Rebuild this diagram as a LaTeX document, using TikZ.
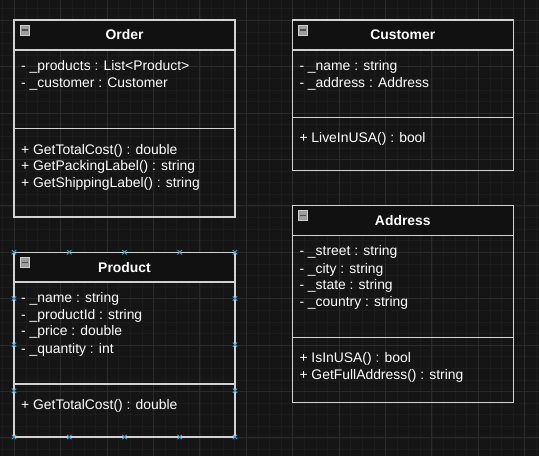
\documentclass[tikz,border=0pt]{standalone}
\usepackage{fontspec}
\setmainfont{Liberation Sans}
\usetikzlibrary{positioning, shapes.misc}

\definecolor{canvas}{HTML}{151515}
\definecolor{headfill}{HTML}{111111}
\definecolor{minorline}{HTML}{1C1C1C}
\definecolor{majorline}{HTML}{2A2A2A}
\definecolor{edge}{HTML}{D2D2D2}
\definecolor{foldfill}{HTML}{9C9C9C}
\definecolor{handleblue}{HTML}{3FA4D6}

\tikzset{
    head/.style={draw=edge, fill=headfill, line width=1.1pt, minimum width=221pt, inner sep=0pt, outer sep=0pt, anchor=north west},
    part/.style={draw=edge, line width=1.1pt, minimum width=221pt, inner sep=0pt, outer sep=0pt},
    title/.style={text=white, font=\bfseries\fontsize{13.9}{16}\selectfont},
    member/.style={text=white, anchor=base west, inner sep=0pt, font=\fontsize{13.9}{16}\selectfont},
    fold/.style={draw=gray!40, fill=foldfill, line width=0.8pt, minimum size=9.5pt, inner sep=0pt, anchor=north west},
    handle/.style={cross out, draw=handleblue, line width=0.9pt, minimum size=3.5pt, inner sep=0pt}
}

\begin{document}
\begin{tikzpicture}[x=1pt, y=-1pt]
        \useasboundingbox (0, 0) rectangle (539, 456);
        \fill [canvas] (0, 0) rectangle (539, 456);

        % grid
        \foreach \i in {0,...,46}
        {
            \draw [minorline, line width=0.8pt] ({2.7+11.6*\i}, 0) to ({2.7+11.6*\i}, 456);
        }
        \foreach \i in {0,...,38}
        {
            \draw [minorline, line width=0.8pt] (0, {8.7+11.6*\i}) to (539, {8.7+11.6*\i});
        }
        \foreach \i in {0,...,11}
        {
            \draw [majorline, line width=0.9pt] ({14.3+46.4*\i}, 0) to ({14.3+46.4*\i}, 456);
        }
        \foreach \i in {0,...,9}
        {
            \draw [majorline, line width=0.9pt] (0, {20.3+46.4*\i}) to (539, {20.3+46.4*\i});
        }

        % Order
        \node [head, minimum height=30pt] (orderhead) at (14, 20) {};
        \node [part, minimum height=78.5pt, below=0pt of orderhead] (orderattr) {};
        \node [part, minimum height=88.5pt, below=0pt of orderattr] (ordermeth) {};
        \node [title] (ordertitle) at (orderhead.center) {Order};
        \node [fold] (orderfold) at (19.5, 25) {};
        \draw [gray!60!black, line width=1.5pt] ([xshift=2pt]orderfold.west) to ([xshift=-2pt]orderfold.east);
        \node [member] (order1) at (21, 70.7) {- \_products : List<Product>};
        \node [member] (order2) at (21, 87) {- \_customer : Customer};
        \node [member] (order3) at (21, 154) {+ GetTotalCost() : double};
        \node [member] (order4) at (21, 170.5) {+ GetPackingLabel() : string};
        \node [member] (order5) at (21, 187) {+ GetShippingLabel() : string};

        % Customer
        \node [head, minimum height=30pt] (customerhead) at (292.3, 20) {};
        \node [part, minimum height=67.3pt, below=0pt of customerhead] (customerattr) {};
        \node [part, minimum height=53.4pt, below=0pt of customerattr] (customermeth) {};
        \node [title] (customertitle) at (customerhead.center) {Customer};
        \node [fold] (customerfold) at (297.8, 25) {};
        \draw [gray!60!black, line width=1.5pt] ([xshift=2pt]customerfold.west) to ([xshift=-2pt]customerfold.east);
        \node [member] (customer1) at (299.3, 70.3) {- \_name : string};
        \node [member] (customer2) at (299.3, 87) {- \_address : Address};
        \node [member] (customer3) at (299.3, 142) {+ LiveInUSA() : bool};

        % Product
        \node [head, minimum height=29.7pt] (producthead) at (14, 252.3) {};
        \node [part, minimum height=102pt, below=0pt of producthead] (productattr) {};
        \node [part, minimum height=53pt, below=0pt of productattr] (productmeth) {};
        \node [title] (producttitle) at (producthead.center) {Product};
        \node [fold] (productfold) at (19.5, 257.3) {};
        \draw [gray!60!black, line width=1.5pt] ([xshift=2pt]productfold.west) to ([xshift=-2pt]productfold.east);
        \node [member] (product1) at (21, 302.3) {- \_name : string};
        \node [member] (product2) at (21, 319.3) {- \_productId : string};
        \node [member] (product3) at (21, 335) {- \_price : double};
        \node [member] (product4) at (21, 353) {- \_quantity : int};
        \node [member] (product5) at (21, 409) {+ GetTotalCost() : double};

        \foreach \x in {14,69.25,124.5,179.75,235}
        {
            \node [handle] at (\x, 252.3) {};
            \node [handle] at (\x, 437) {};
        }
        \foreach \y in {298.5,344.7,390.8}
        {
            \node [handle] at (14, \y) {};
            \node [handle] at (235, \y) {};
        }

        % Address
        \node [head, minimum height=30.4pt] (addresshead) at (292.3, 205.3) {};
        \node [part, minimum height=102pt, below=0pt of addresshead] (addressattr) {};
        \node [part, minimum height=64.6pt, below=0pt of addressattr] (addressmeth) {};
        \node [title] (addresstitle) at (addresshead.center) {Address};
        \node [fold] (addressfold) at (297.8, 210.3) {};
        \draw [gray!60!black, line width=1.5pt] ([xshift=2pt]addressfold.west) to ([xshift=-2pt]addressfold.east);
        \node [member] (address1) at (299.3, 255.7) {- \_street : string};
        \node [member] (address2) at (299.3, 273.3) {- \_city : string};
        \node [member] (address3) at (299.3, 289) {- \_state : string};
        \node [member] (address4) at (299.3, 306.3) {- \_country : string};
        \node [member] (address5) at (299.3, 362.7) {+ IsInUSA() : bool};
        \node [member] (address6) at (299.3, 379) {+ GetFullAddress() : string};
    \end{tikzpicture}
\end{document}
